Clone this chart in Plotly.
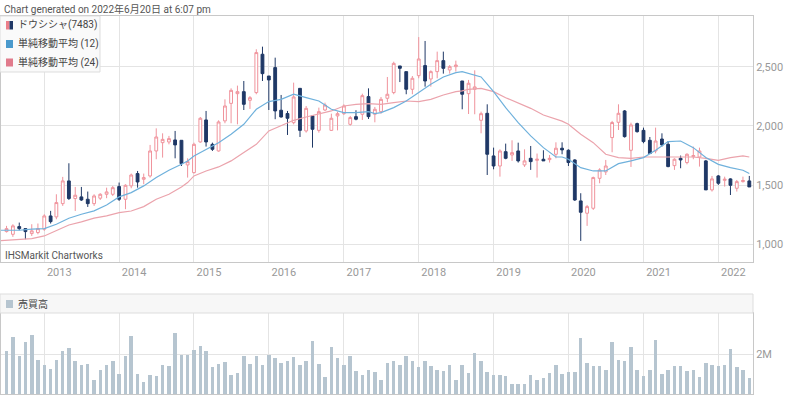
import pandas as pd
import plotly.graph_objects as go

# ---------------- data ----------------
months = pd.date_range("2012-07-01", periods=120, freq="MS").strftime("%Y-%m-%d").tolist()

open_ = [1107,1084,1149,1132,1090,1099,1127,1239,1231,1343,1535,1386,1400,1380,1343,1389,1422,1422,1487,1380,
         1493,1597,1549,1577,1788,1858,1864,1881,1878,1670,1605,1864,2050,1844,1788,2042,2190,2272,2289,2216,
         2281,2605,2421,2492,2132,2104,2027,2317,1957,2084,1962,2134,1962,2084,2103,2013,2078,2098,2247,2098,
         2120,2233,2281,2506,2458,2309,2424,2509,2396,2458,2551,2472,2500,2379,2272,2309,2047,2106,1746,1661,
         1782,1754,1788,1670,1726,1709,1718,1715,1760,1811,1794,1712,1366,1262,1304,1557,1611,1901,2030,2126,
         1794,2019,1962,1878,1788,1889,1844,1664,1726,1690,1740,1737,1704,1459,1577,1540,1552,1473,1529,1535]
high = [1155,1169,1183,1132,1169,1175,1253,1282,1422,1569,1684,1484,1484,1445,1422,1431,1478,1492,1521,1507,
        1597,1619,1597,1839,1979,1937,1915,1957,1878,1726,1858,2075,2126,1858,2047,2224,2317,2340,2379,2252,
        2647,2669,2421,2576,2261,2126,2365,2317,2168,2084,2154,2196,2103,2120,2182,2084,2132,2272,2317,2160,
        2244,2413,2542,2506,2458,2421,2750,2717,2469,2627,2627,2514,2551,2379,2388,2469,2120,2182,1816,1802,
        1850,1878,1858,1802,1830,1766,1794,1754,1861,1861,1802,1718,1431,1332,1571,1642,1712,2042,2182,2134,
        2027,2027,1985,1906,1985,1937,1872,1726,1749,1768,1825,1816,1712,1577,1585,1571,1557,1543,1571,1577]
low = [1099,1062,1118,1042,1070,1084,1113,1175,1211,1324,1374,1281,1366,1315,1324,1374,1389,1408,1366,1296,
       1473,1478,1507,1563,1718,1732,1844,1726,1661,1563,1597,1858,1825,1788,1782,2022,2022,2013,2134,2143,
       2267,2379,2134,2056,2070,1923,2013,1906,1943,1816,1943,2126,1957,1962,2092,2002,2047,2050,2058,2030,
       2103,2199,2267,2370,2267,2267,2402,2331,2331,2402,2441,2441,2458,2140,2100,2098,1937,1585,1633,1571,
       1718,1704,1690,1653,1628,1563,1704,1690,1726,1760,1661,1366,1028,1155,1290,1515,1585,1777,1965,1901,
       1653,1943,1853,1766,1768,1825,1650,1628,1642,1675,1718,1656,1459,1445,1501,1487,1416,1445,1521,1484]
close = [1132,1155,1132,1107,1113,1132,1239,1191,1352,1535,1386,1414,1374,1343,1408,1422,1442,1478,1380,1498,
         1585,1526,1563,1788,1906,1886,1892,1839,1681,1698,1844,2064,1864,1802,2033,2168,2300,2289,2182,2238,
         2619,2441,2388,2126,2075,2064,2244,1962,2148,1971,2120,2176,2064,2103,2168,2070,2056,2255,2078,2140,
         2224,2267,2528,2486,2309,2402,2565,2379,2458,2551,2486,2500,2514,2267,2360,2329,2103,1760,1661,1788,
         1726,1774,1704,1704,1698,1718,1704,1726,1811,1797,1690,1374,1270,1318,1563,1628,1661,2028,2106,1909,
         2008,1951,1867,1766,1872,1839,1656,1718,1712,1760,1749,1788,1459,1552,1515,1549,1498,1529,1538,1484]

volume_m = [2.13,2.85,1.92,2.58,2.97,1.70,1.47,1.27,1.70,2.13,2.30,1.63,1.43,1.50,0.68,1.22,1.47,1.67,1.02,1.88,
            2.92,1.00,0.60,0.97,0.92,1.47,1.38,3.05,1.97,1.97,2.22,2.38,2.13,1.35,1.50,1.58,0.97,1.05,1.92,1.50,
            1.88,1.43,1.97,1.80,1.55,1.63,1.83,1.47,1.63,2.67,1.50,0.85,2.37,1.80,1.43,1.92,1.13,0.97,1.18,1.10,
            0.72,1.55,1.63,1.43,1.92,1.67,1.35,1.63,1.38,1.18,1.17,1.47,0.72,1.47,1.05,2.05,1.67,1.10,0.93,0.97,
            0.88,0.52,0.52,0.50,0.97,0.68,0.80,1.05,1.43,1.00,1.10,1.10,2.80,1.55,1.38,1.38,1.18,2.58,1.72,1.63,
            2.33,1.22,0.92,1.18,2.72,1.02,1.18,1.38,1.38,1.17,1.18,0.85,1.55,1.43,1.38,1.43,2.25,1.35,1.18,0.80]

sma_months = ["2012-06","2012-07","2012-09","2012-11","2013-01","2013-03","2013-05","2013-07","2013-09","2013-11",
              "2014-01","2014-03","2014-05","2014-07","2014-09","2014-11","2014-12","2015-01","2015-03","2015-05",
              "2015-07","2015-09","2015-11","2016-01","2016-03","2016-05","2016-07","2016-09","2016-11","2017-01",
              "2017-03","2017-05","2017-06","2017-07","2017-09","2017-11","2018-01","2018-03","2018-05","2018-07",
              "2018-08","2018-09","2018-11","2019-01","2019-03","2019-05","2019-07","2019-09","2019-11","2019-12",
              "2020-01","2020-03","2020-05","2020-07","2020-09","2020-11","2021-01","2021-03","2021-05","2021-07",
              "2021-09","2021-11","2022-01","2022-03","2022-05","2022-06"]
sma12 = [1118,1118,1118,1127,1132,1169,1220,1253,1282,1332,
         1400,1436,1493,1563,1625,1675,1704,1746,1802,1858,
         1929,2013,2140,2205,2224,2267,2238,2210,2140,2112,
         2112,2120,2103,2112,2154,2210,2281,2351,2413,2450,
         2458,2441,2413,2289,2154,2027,1915,1816,1737,1737,
         1718,1647,1619,1619,1681,1704,1732,1794,1867,1872,
         1816,1732,1675,1647,1625,1597]
sma24 = [1031,1034,1037,1048,1070,1113,1163,1189,1220,1239,
         1267,1281,1318,1380,1422,1484,1521,1577,1619,1653,
         1704,1774,1844,1957,2000,2047,2075,2103,2126,2168,
         2182,2188,2182,2182,2196,2210,2205,2224,2261,2289,
         2295,2309,2317,2289,2238,2196,2148,2092,2056,2040,
         2013,1929,1858,1760,1732,1726,1737,1737,1740,1737,
         1737,1726,1709,1732,1746,1737]

price_ticks = [1000, 1500, 2000, 2500]
year_ticks = ["2013","2014","2015","2016","2017","2018","2019","2020","2021","2022"]

# ---------------- layout helpers ----------------
W, H = 800, 396
ML, MR, MT, MB = 1, 47, 16, 2
PW, PH = W - ML - MR, H - MT - MB

def px(x):
    return (x - ML) / PW

def py(y):
    return (H - MB - y) / PH

FONT = "Roboto, 'Noto Sans CJK JP', 'Noto Sans', sans-serif"
PINK = "#f0939c"
NAVY = "#1f3866"
BLUE12 = "#6fb1dc"
PINK24 = "#eba3ac"
VOLC = "#b6c5d0"
GRID = "#e4e4e4"
AXIS = "#c8c8c8"

sma_x = [m + "-01" for m in sma_months]
vol = [v * 1e6 for v in volume_m]

fig = go.Figure()
fig.add_trace(go.Candlestick(
    x=months, open=open_, high=high, low=low, close=close,
    xaxis="x", yaxis="y", whiskerwidth=0,
    increasing=dict(line=dict(color=PINK, width=1), fillcolor="white"),
    decreasing=dict(line=dict(color=NAVY, width=1), fillcolor=NAVY),
    showlegend=False, hoverinfo="skip"))
fig.add_trace(go.Scatter(x=sma_x, y=sma24, mode="lines", line=dict(color=PINK24, width=1.2),
                         xaxis="x", yaxis="y", showlegend=False, hoverinfo="skip"))
fig.add_trace(go.Scatter(x=sma_x, y=sma12, mode="lines", line=dict(color=BLUE12, width=1.2),
                         xaxis="x", yaxis="y", showlegend=False, hoverinfo="skip"))
fig.add_trace(go.Bar(x=months, y=vol, marker=dict(color=VOLC, line=dict(width=0)),
                     width=17 * 86400000, xaxis="x2", yaxis="y2", showlegend=False, hoverinfo="skip"))

xr = ["2012-06-04", "2022-06-19"]
tickvals = [y + "-01-01" for y in year_ticks]

fig.update_layout(
    width=W, height=H,
    margin=dict(l=ML, r=MR, t=MT, b=MB),
    paper_bgcolor="white", plot_bgcolor="white",
    font=dict(family=FONT, size=11, color="#999999"),
    bargap=0,
    xaxis=dict(domain=[0, 1], anchor="y", range=xr, type="date",
               tickvals=tickvals, ticktext=year_ticks, ticks="", ticklabelshift=15,
               showgrid=True, gridcolor=GRID, gridwidth=1,
               showline=True, linecolor=AXIS, mirror=True, zeroline=False,
               rangeslider=dict(visible=False), tickfont=dict(size=11, color="#999999")),
    yaxis=dict(domain=[py(262), 1], anchor="x", range=[850, 2928], side="right",
               tickvals=price_ticks, tickformat=",d", ticks="",
               showgrid=True, gridcolor=GRID, showline=True, linecolor=AXIS, mirror=True,
               zeroline=False, tickfont=dict(size=11, color="#999999")),
    xaxis2=dict(domain=[0, 1], anchor="y2", range=xr, type="date", matches="x",
                tickvals=tickvals, showticklabels=False, ticks="",
                showgrid=True, gridcolor=GRID, showline=True, linecolor=AXIS, mirror=True,
                zeroline=False),
    yaxis2=dict(domain=[0, py(313)], anchor="x2", range=[0, 4.05e6], side="right",
                tickvals=[2e6], ticktext=["2M"], ticks="",
                showgrid=True, gridcolor=GRID, showline=True, linecolor=AXIS, mirror=True,
                zeroline=False, tickfont=dict(size=11, color="#999999")),
)

shapes = []
annotations = []

# title
annotations.append(dict(x=px(2), y=py(9), xref="paper", yref="paper", xanchor="left", yanchor="middle",
                        text="Chart generated on 2022年6月20日 at 6:07 pm", showarrow=False,
                        font=dict(size=10, color="#555555", family=FONT)))
# watermark
annotations.append(dict(x=px(3), y=py(255), xref="paper", yref="paper", xanchor="left", yanchor="middle",
                        text="IHSMarkit Chartworks", showarrow=False,
                        font=dict(size=10, color="#555555", family=FONT)))

# legend box
shapes.append(dict(type="rect", xref="paper", yref="paper", x0=px(0), x1=px(100), y0=py(72), y1=py(16),
                   fillcolor="rgba(250,250,250,0.97)", line=dict(color="#dddddd", width=1), layer="above"))
legend_rows = [("ドウシシャ(7483)", 25), ("単純移動平均 (12)", 43.5), ("単純移動平均 (24)", 62.5)]
shapes.append(dict(type="rect", xref="paper", yref="paper", x0=px(6), x1=px(9.5), y0=py(29.5), y1=py(21),
                   fillcolor="#ec7f8a", line=dict(width=0), layer="above"))
shapes.append(dict(type="rect", xref="paper", yref="paper", x0=px(9.5), x1=px(13), y0=py(29.5), y1=py(21),
                   fillcolor=NAVY, line=dict(width=0), layer="above"))
shapes.append(dict(type="rect", xref="paper", yref="paper", x0=px(6), x1=px(13), y0=py(48), y1=py(40),
                   fillcolor="#4b9acd", line=dict(width=0), layer="above"))
shapes.append(dict(type="rect", xref="paper", yref="paper", x0=px(6), x1=px(13), y0=py(66.5), y1=py(58.5),
                   fillcolor="#e17b8c", line=dict(width=0), layer="above"))
for txt, yc in legend_rows:
    annotations.append(dict(x=px(16), y=py(yc), xref="paper", yref="paper", xanchor="left", yanchor="middle",
                            text=txt, showarrow=False, font=dict(size=10, color="#444444", family=FONT)))

# volume header band
shapes.append(dict(type="rect", xref="paper", yref="paper", x0=px(0), x1=1, y0=py(313), y1=py(294),
                   fillcolor="#f7f7f7", line=dict(color="#dddddd", width=1), layer="above"))
shapes.append(dict(type="rect", xref="paper", yref="paper", x0=px(6), x1=px(13), y0=py(308), y1=py(300),
                   fillcolor=VOLC, line=dict(width=0), layer="above"))
annotations.append(dict(x=px(16), y=py(303.5), xref="paper", yref="paper", xanchor="left", yanchor="middle",
                        text="売買高", showarrow=False, font=dict(size=10, color="#444444", family=FONT)))

fig.update_layout(shapes=shapes, annotations=annotations)
fig.write_html("out.html", config={"displayModeBar": False},
               post_script="document.body.style.margin='0px';document.body.style.overflow='hidden';")
